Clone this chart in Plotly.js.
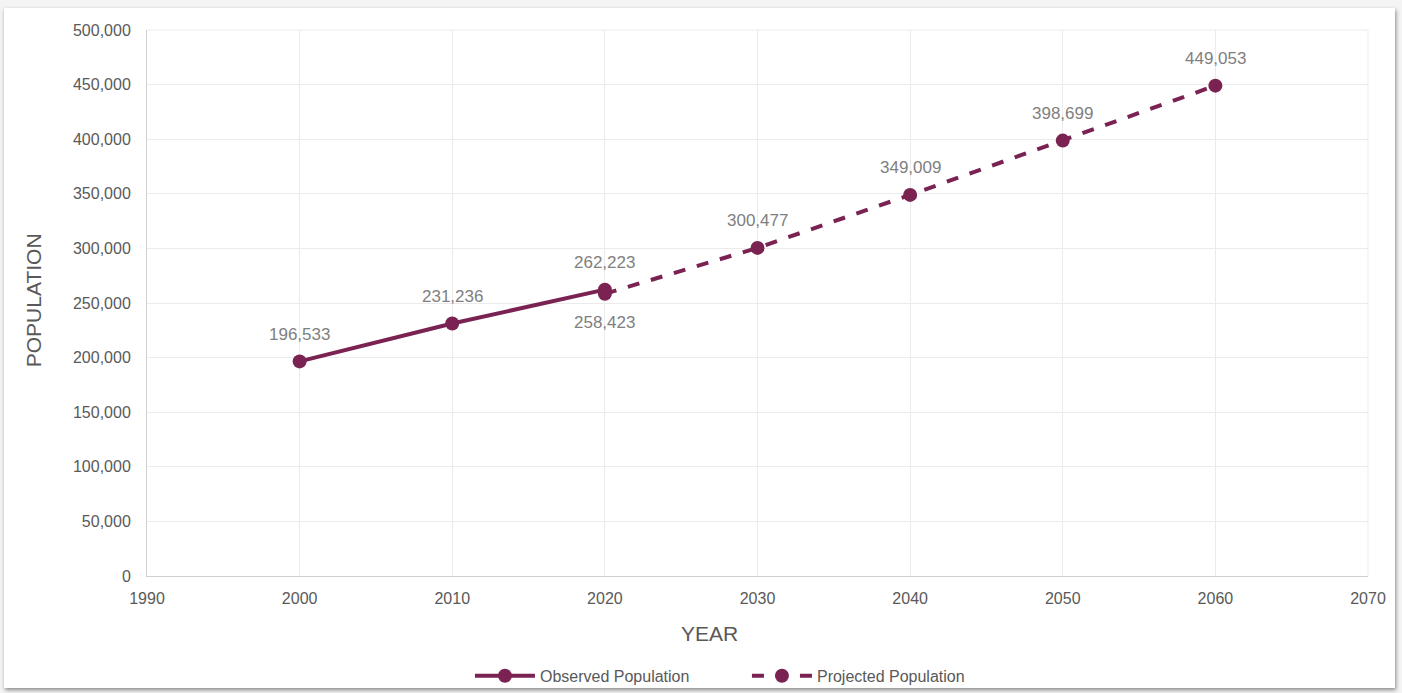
<!DOCTYPE html>
<html><head><meta charset="utf-8">
<script src="https://cdn.plot.ly/plotly-3.0.1.min.js"></script>
<style>
html,body{margin:0;padding:0;background:#f4f4f4;width:1402px;height:693px;overflow:hidden;}
#card{position:absolute;left:4px;top:8px;width:1391px;height:680px;background:#fff;box-shadow:1px 2px 4px rgba(0,0,0,0.45);}
#chart{position:absolute;left:0;top:0;width:1402px;height:693px;}
</style></head><body>
<div id="card"></div>
<div id="chart"></div>
<script>
const observedYears = [2000, 2010, 2020];
const observedPop = [196533, 231236, 262223];
const projectedYears = [2020, 2030, 2040, 2050, 2060];
const projectedPop = [258423, 300477, 349009, 398699, 449053];
const yTicks = [0, 50000, 100000, 150000, 200000, 250000, 300000, 350000, 400000, 450000, 500000];
const xTicks = [1990, 2000, 2010, 2020, 2030, 2040, 2050, 2060, 2070];

const col = '#7a2352';
const fmt = v => v.toLocaleString('en-US');
const labelFont = {family: 'Liberation Sans, Arial', size: 17, color: '#808080'};

const traces = [
  {
    x: observedYears, y: observedPop, name: 'Observed Population',
    mode: 'lines+markers', type: 'scatter',
    line: {color: col, width: 4}, marker: {color: col, size: 14}
  },
  {
    x: projectedYears, y: projectedPop, name: 'Projected Population',
    mode: 'lines+markers', type: 'scatter',
    line: {color: col, width: 4, dash: 'dash'}, marker: {color: col, size: 14}
  }
];

const annotations = [];
observedYears.forEach((yr, i) => annotations.push({
  x: yr, y: observedPop[i], text: fmt(observedPop[i]), showarrow: false,
  yshift: 27, font: labelFont
}));
projectedYears.forEach((yr, i) => annotations.push({
  x: yr, y: projectedPop[i], text: fmt(projectedPop[i]), showarrow: false,
  yshift: i === 0 ? -29 : 27, font: labelFont
}));
annotations.push({
  xref: 'paper', yref: 'paper', x: 0.461, y: -0.106, yanchor: 'middle',
  text: 'YEAR', showarrow: false, font: {size: 21, color: '#595959'}
});
annotations.push({
  xref: 'paper', yref: 'paper', x: -0.0934, y: 0.505, xanchor: 'center', yanchor: 'middle',
  text: 'POPULATION', textangle: -90, showarrow: false, font: {size: 21, color: '#595959'}
});

const layout = {
  width: 1402, height: 693,
  paper_bgcolor: 'rgba(0,0,0,0)', plot_bgcolor: '#fff',
  margin: {l: 147, r: 34, t: 30, b: 117, autoexpand: false},
  font: {family: 'Liberation Sans, Arial', color: '#595959'},
  showlegend: true,
  legend: {orientation: 'h', x: 0.2645, xanchor: 'left', y: -0.183, yanchor: 'middle',
           font: {size: 16, color: '#595959'}, traceorder: 'normal', itemwidth: 60,
           entrywidth: 202},
  xaxis: {
    range: [1990, 2070], tickvals: xTicks, ticktext: xTicks.map(String),
    showgrid: true, gridcolor: '#ebebeb', gridwidth: 1,
    showline: true, linecolor: '#d0d0d0', linewidth: 1, mirror: false,
    zeroline: false, ticks: '', ticklen: 0, ticklabelstandoff: 8,
    tickfont: {size: 16, color: '#595959'}
  },
  yaxis: {
    range: [0, 500000], tickvals: yTicks, ticktext: yTicks.map(fmt),
    showgrid: true, gridcolor: '#ebebeb', gridwidth: 1,
    showline: true, linecolor: '#d0d0d0', linewidth: 1,
    zeroline: false, ticks: '', ticklen: 0, ticklabelstandoff: 12,
    tickfont: {size: 16, color: '#595959'}
  },
  annotations: annotations,
  shapes: [
    {type: 'line', xref: 'paper', yref: 'paper', x0: 1, x1: 1, y0: 0, y1: 1, line: {color: '#ebebeb', width: 1}},
    {type: 'line', xref: 'paper', yref: 'paper', x0: 0, x1: 1, y0: 1, y1: 1, line: {color: '#ebebeb', width: 1}}
  ]
};

Plotly.newPlot('chart', traces, layout, {displayModeBar: false, staticPlot: true});
</script>
</body></html>
